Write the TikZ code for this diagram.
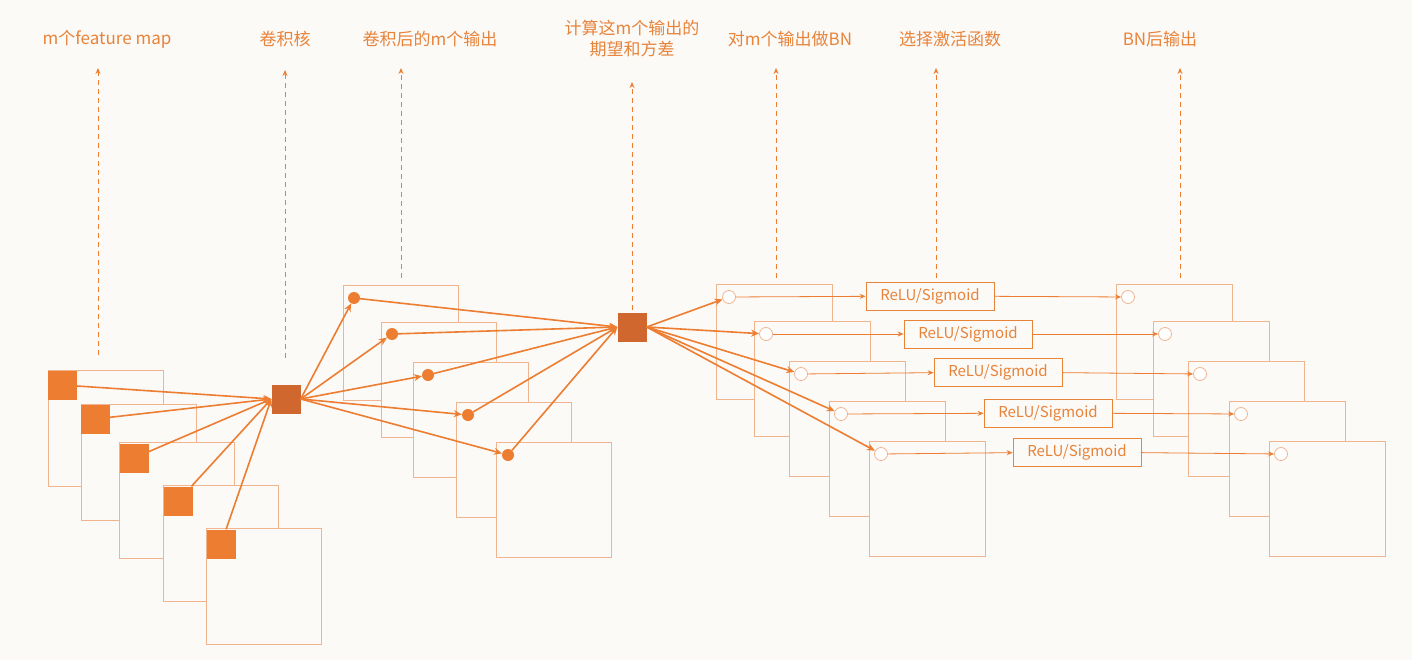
\documentclass[tikz,border=0pt]{standalone}
\usepackage{fontspec}
\setmainfont{Noto Sans CJK SC}
\usetikzlibrary{arrows.meta}
\definecolor{bg}{HTML}{FBFAF7}
\definecolor{org}{HTML}{ED7D31}
\definecolor{dk}{HTML}{D0672E}
\definecolor{fr}{HTML}{F0B48E}
\definecolor{tx}{HTML}{E8833A}
\begin{document}
\begin{tikzpicture}[x=1pt,y=-1pt,
  frame/.style={draw=fr,fill=bg,line width=0.9pt},
  fsq/.style={fill=org,draw=none,minimum size=29pt,inner sep=0pt},
  ker/.style={fill=dk,draw=none,minimum size=29pt,inner sep=0pt},
  dot/.style={circle,fill=org,minimum size=12pt,inner sep=0pt},
  ocirc/.style={circle,draw=fr,fill=white,minimum size=13pt,inner sep=0pt,line width=0.8pt},
  relu/.style={draw=tx,fill=bg,minimum width=128pt,minimum height=28pt,inner sep=0pt,text=tx,font=\fontsize{15pt}{17pt}\selectfont,line width=0.7pt},
  lab/.style={text=tx,font=\fontsize{17pt}{21pt}\selectfont,align=center},
  conn/.style={draw=org,line width=1.6pt,-{Stealth[length=8pt,width=7pt]}},
  thin/.style={draw=org,line width=0.8pt,-{Stealth[length=6pt,width=5pt]}},
  up/.style={draw=org,line width=0.9pt,dashed,dash pattern=on 5pt off 4pt,-{Stealth[length=6pt,width=5pt]}}]
\fill[bg] (0,0) rectangle (1412,660);
% frames A
\foreach \x/\y in {48/370,81/404,119/442,163/485,206/528}
  \draw[frame] (\x,\y) rectangle ++(115,116);
\foreach \x/\y in {343/285,381/322,413/362,456/402,496/442}
  \draw[frame] (\x,\y) rectangle ++(115,115);
\foreach \x/\y in {716/284,754/321,789/361,829/401,869/441}
  \draw[frame] (\x,\y) rectangle ++(116,115);
\foreach \x/\y in {1116/284,1153/321,1188/361,1229/401,1269/441}
  \draw[frame] (\x,\y) rectangle ++(116,115);
% nodes
\node[fsq] (a1) at (62,385) {};
\node[fsq] (a2) at (95,419) {};
\node[fsq] (a3) at (134,458) {};
\node[fsq] (a4) at (178,501) {};
\node[fsq] (a5) at (221,544) {};
\node[ker] (k) at (286,399) {};
\node[dot] (b1) at (354,298) {};
\node[dot] (b2) at (392,334) {};
\node[dot] (b3) at (428,375) {};
\node[dot] (b4) at (468,415) {};
\node[dot] (b5) at (508,455) {};
\node[ker] (s) at (632,327) {};
\node[ocirc] (c1) at (729,297) {};
\node[ocirc] (c2) at (766,334) {};
\node[ocirc] (c3) at (801,374) {};
\node[ocirc] (c4) at (841,414) {};
\node[ocirc] (c5) at (881,454) {};
\node[relu] (r1) at (930,296) {ReLU/Sigmoid};
\node[relu] (r2) at (968,334) {ReLU/Sigmoid};
\node[relu] (r3) at (998,372) {ReLU/Sigmoid};
\node[relu] (r4) at (1048,413) {ReLU/Sigmoid};
\node[relu] (r5) at (1077,452) {ReLU/Sigmoid};
\node[ocirc] (d1) at (1128,297) {};
\node[ocirc] (d2) at (1165,334) {};
\node[ocirc] (d3) at (1200,374) {};
\node[ocirc] (d4) at (1241,414) {};
\node[ocirc] (d5) at (1281,454) {};
% connectors
\foreach \i in {1,...,5} {
  \draw[conn] (a\i) -- (k.west);
  \draw[conn] (k.east) -- (b\i);
  \draw[conn] (b\i) -- (s.west);
  \draw[conn] (s.east) -- (c\i);
  \draw[thin] (c\i) -- (r\i);
  \draw[thin] (r\i) -- (d\i);
}
% labels
\node[lab] (l1) at (107,39) {m个feature map};
\node[lab] (l2) at (285,39) {卷积核};
\node[lab] (l3) at (430,39) {卷积后的m个输出};
\node[lab] (l4) at (632,39) {计算这m个输出的\\期望和方差};
\node[lab] (l5) at (790,39) {对m个输出做BN};
\node[lab] (l6) at (950,39) {选择激活函数};
\node[lab] (l7) at (1160,39) {BN后输出};
\coordinate (u1) at (98,355); \coordinate (v1) at (98,68);
\coordinate (u2) at (285,358); \coordinate (v2) at (285,70);
\coordinate (u3) at (401,278); \coordinate (v3) at (401,68);
\coordinate (u4) at (632,310); \coordinate (v4) at (632,82);
\coordinate (u5) at (776,278); \coordinate (v5) at (776,68);
\coordinate (u6) at (936,278); \coordinate (v6) at (936,68);
\coordinate (u7) at (1180,278); \coordinate (v7) at (1180,68);
\foreach \i in {1,...,7} \draw[up] (u\i) -- (v\i);
\end{tikzpicture}
\end{document}
